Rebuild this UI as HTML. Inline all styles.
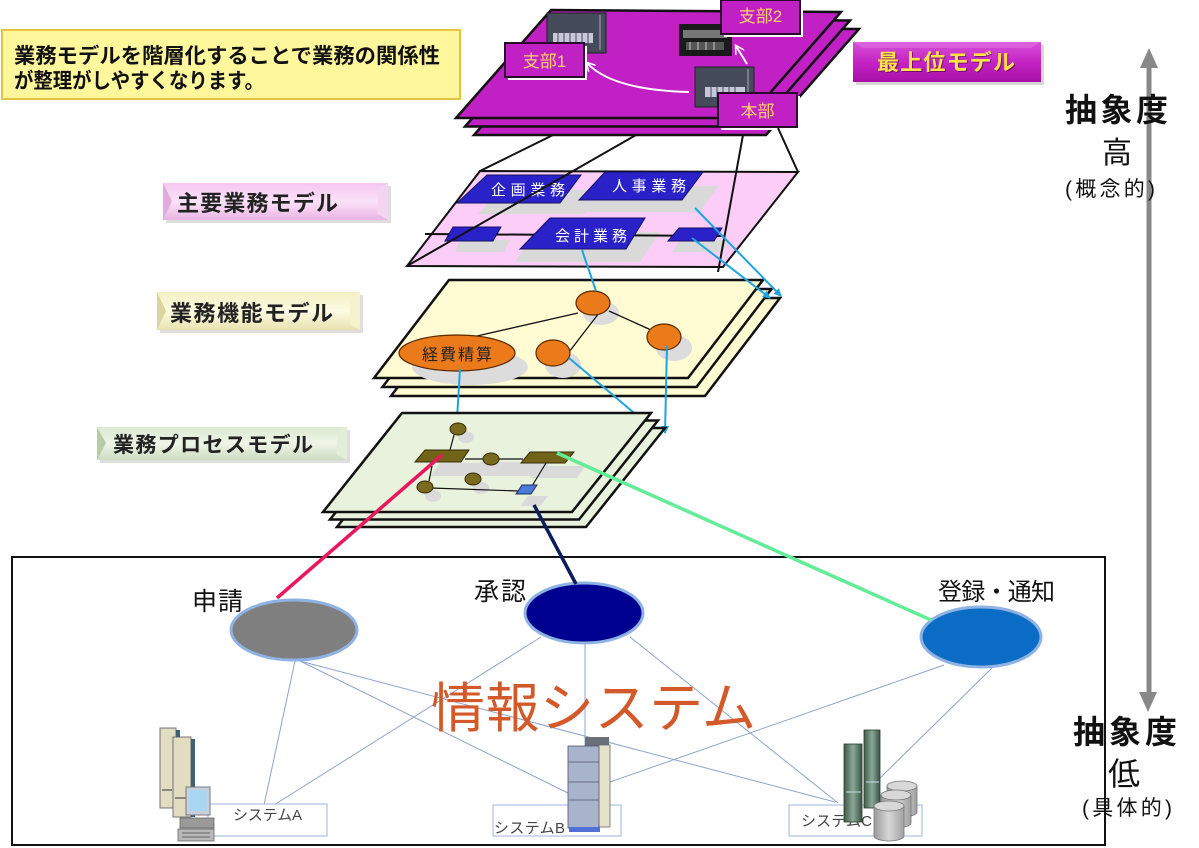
<!DOCTYPE html>
<html><head><meta charset="utf-8">
<style>
html,body{margin:0;padding:0;background:#fff;}
svg{display:block;}
text{font-family:"Liberation Sans","Noto Sans CJK JP",sans-serif;}
</style></head><body>
<svg width="1199" height="848" viewBox="0 0 1199 848" xmlns="http://www.w3.org/2000/svg">
<defs>
  <linearGradient id="gPink" x1="0" y1="0" x2="0" y2="1">
    <stop offset="0" stop-color="#f6c6f0"/><stop offset="0.5" stop-color="#fbe2f8"/><stop offset="1" stop-color="#eab4e4"/>
  </linearGradient>
  <linearGradient id="gYel" x1="0" y1="0" x2="0" y2="1">
    <stop offset="0" stop-color="#f3efc4"/><stop offset="0.5" stop-color="#fdfbe2"/><stop offset="1" stop-color="#e8e2b0"/>
  </linearGradient>
  <linearGradient id="gGrn" x1="0" y1="0" x2="0" y2="1">
    <stop offset="0" stop-color="#dce9d0"/><stop offset="0.5" stop-color="#eef5e8"/><stop offset="1" stop-color="#cddcc0"/>
  </linearGradient>
  <linearGradient id="gMag" x1="0" y1="0" x2="0" y2="1">
    <stop offset="0" stop-color="#d850d8"/><stop offset="0.5" stop-color="#c424c4"/><stop offset="1" stop-color="#a810a8"/>
  </linearGradient>
  <linearGradient id="gTowerG" x1="0" y1="0" x2="1" y2="0">
    <stop offset="0" stop-color="#3e5a48"/><stop offset="0.5" stop-color="#8aa898"/><stop offset="1" stop-color="#3a5444"/>
  </linearGradient>
  <linearGradient id="gCyl" x1="0" y1="0" x2="1" y2="0">
    <stop offset="0" stop-color="#9a9a9a"/><stop offset="0.5" stop-color="#d8d8d8"/><stop offset="1" stop-color="#a0a0a0"/>
  </linearGradient>
  <marker id="arr" markerWidth="8" markerHeight="8" refX="7" refY="4" orient="auto" markerUnits="userSpaceOnUse">
    <path d="M0,0 L8,4 L0,8 z" fill="#1ea4e0"/>
  </marker>
  <marker id="warr" markerWidth="10" markerHeight="10" refX="8" refY="5" orient="auto" markerUnits="userSpaceOnUse">
    <path d="M0,0 L9,5 L0,10" fill="none" stroke="#fff" stroke-width="1.5"/>
  </marker>
</defs>

<!-- Top-left text box -->
<rect x="2" y="30" width="458" height="69" fill="#fff79c" stroke="#e6c442" stroke-width="2"/>
<text x="14" y="63" font-size="21" font-weight="bold" fill="#111" textLength="426" lengthAdjust="spacingAndGlyphs">業務モデルを階層化することで業務の関係性</text>
<text x="14" y="88" font-size="21" font-weight="bold" fill="#111" textLength="250" lengthAdjust="spacingAndGlyphs">が整理がしやすくなります。</text>

<!-- Top purple plates -->
<polygon points="569,27 859,29 766,135 474,135" fill="#c020c4" stroke="#111" stroke-width="2.5"/>
<polygon points="560,18.5 850,20.5 757,126.5 465,126.5" fill="#c020c4" stroke="#111" stroke-width="2.5"/>
<polygon points="551,10 841,12 748,118 456,118" fill="#c020c4" stroke="#111" stroke-width="2.5"/>

<!-- building 1 -->
<rect x="547" y="13" width="59" height="40" fill="#454b5a" stroke="#222" stroke-width="1"/>
<rect x="553" y="33" width="40" height="10" fill="#dde" opacity="0.85"/>
<g stroke="#454b5a" stroke-width="1"><line x1="558" y1="33" x2="558" y2="43"/><line x1="564" y1="33" x2="564" y2="43"/><line x1="570" y1="33" x2="570" y2="43"/><line x1="576" y1="33" x2="576" y2="43"/><line x1="582" y1="33" x2="582" y2="43"/><line x1="588" y1="33" x2="588" y2="43"/></g>
<line x1="600" y1="15" x2="600" y2="50" stroke="#aab" stroke-width="1"/>
<!-- building 2 -->
<rect x="679" y="24" width="53" height="32" fill="#1a1a1a"/>
<rect x="683" y="30" width="44" height="8" fill="#777"/>
<rect x="686" y="42" width="38" height="8" fill="#555"/>
<g stroke="#ccc" stroke-width="1"><line x1="690" y1="42" x2="690" y2="50"/><line x1="698" y1="42" x2="698" y2="50"/><line x1="706" y1="42" x2="706" y2="50"/><line x1="714" y1="42" x2="714" y2="50"/></g>
<!-- building 3 -->
<rect x="695" y="67" width="59" height="40" fill="#454b5a" stroke="#222" stroke-width="1"/>
<rect x="705" y="87" width="40" height="10" fill="#dde" opacity="0.85"/>
<g stroke="#454b5a" stroke-width="1"><line x1="711" y1="87" x2="711" y2="97"/><line x1="717" y1="87" x2="717" y2="97"/><line x1="723" y1="87" x2="723" y2="97"/><line x1="729" y1="87" x2="729" y2="97"/><line x1="735" y1="87" x2="735" y2="97"/></g>
<line x1="748" y1="69" x2="748" y2="105" stroke="#aab" stroke-width="1"/>

<!-- white arrows -->
<path d="M689,92 Q612,90 587,63" fill="none" stroke="#fff" stroke-width="2" marker-end="url(#warr)"/>
<path d="M747,64 L736,46" fill="none" stroke="#fff" stroke-width="2" marker-end="url(#warr)"/>

<!-- 支部 boxes -->
<rect x="508" y="46" width="79" height="34" fill="#fff"/>
<rect x="505" y="43" width="79" height="34" fill="#c020c4" stroke="#2a0a2a" stroke-width="2"/>
<text x="544.5" y="67" font-size="17" fill="#ffd36a" text-anchor="middle">支部1</text>
<rect x="724" y="3" width="79" height="34" fill="#fff"/>
<rect x="721" y="0" width="79" height="34" fill="#c020c4" stroke="#2a0a2a" stroke-width="2"/>
<text x="760.5" y="22" font-size="17" fill="#ffd36a" text-anchor="middle">支部2</text>
<rect x="721" y="96" width="79" height="34" fill="#fff"/>
<rect x="718" y="93" width="79" height="34" fill="#c020c4" stroke="#2a0a2a" stroke-width="2"/>
<text x="757.5" y="117" font-size="17" fill="#ffd36a" text-anchor="middle">本部</text>

<!-- 最上位モデル -->
<rect x="856" y="45" width="188" height="40" fill="#bbb" opacity="0.6"/>
<rect x="853" y="42" width="188" height="40" fill="url(#gMag)"/>
<polygon points="853,42 1041,42 1031,48 863,48" fill="#e070e0" opacity="0.6"/>
<text x="947" y="71" font-size="22" font-weight="bold" fill="#2a0030" text-anchor="middle" opacity="0.5" textLength="138">最上位モデル</text>
<text x="946" y="70" font-size="22" font-weight="bold" fill="#ffe24a" text-anchor="middle" textLength="138">最上位モデル</text>

<!-- lines top to pink (behind plate) -->
<g stroke="#111" stroke-width="2" fill="none">
<line x1="553" y1="135" x2="480" y2="171"/>
<line x1="778" y1="128" x2="798" y2="172"/>
</g>

<!-- Pink plate -->
<polygon points="480,171 798,172 723,267 407,266" fill="#fbcdf7" stroke="#111" stroke-width="2"/>
<!-- gray shadows -->
<g fill="#d9d9d9">
<polygon points="500,190 600,190 585,214 478,214"/>
<polygon points="600,186 718,186 700,212 585,212"/>
<polygon points="535,232 660,232 640,262 515,262"/>
<polygon points="460,240 510,240 504,252 455,252"/>
<polygon points="680,240 730,240 722,252 672,252"/>
</g>
<line x1="425" y1="234" x2="722" y2="236" stroke="#111" stroke-width="2"/>
<g fill="#2a22c8" stroke="#121060" stroke-width="1">
<polygon points="487,175 581,175 560,203 457,203"/>
<polygon points="605,172 703,172 682,200 579,200"/>
<polygon points="550,218 645,218 626,249 520,249"/>
<polygon points="453,227 501,227 493,241 445,241"/>
<polygon points="679,228 722,228 714,241 668,241"/>
</g>
<text x="528" y="195" font-size="15" fill="#fff" text-anchor="middle" textLength="74">企画業務</text>
<text x="649" y="191" font-size="15" fill="#fff" text-anchor="middle" textLength="74">人事業務</text>
<text x="591" y="241" font-size="15" fill="#fff" text-anchor="middle" textLength="72">会計業務</text>
<!-- through lines over pink plate -->
<g stroke="#111" stroke-width="2" fill="none">
<line x1="636" y1="135" x2="407" y2="266"/>
<line x1="743" y1="135" x2="718" y2="272"/>
</g>

<!-- Yellow plates -->
<polygon points="466,298 780,298 705,396 391,396" fill="#fffbd2" stroke="#111" stroke-width="2.5"/>
<polygon points="457.5,289 771.5,289 696.5,387 382.5,387" fill="#fffbd2" stroke="#111" stroke-width="2.5"/>
<polygon points="449,280 763,280 688,378 374,378" fill="#fffbd2" stroke="#111" stroke-width="2.5"/>
<g fill="#dcdcdc">
<ellipse cx="601" cy="313" rx="18" ry="12"/>
<ellipse cx="674" cy="348" rx="18" ry="13"/>
<ellipse cx="563" cy="365" rx="18" ry="13"/>
<ellipse cx="470" cy="367" rx="58" ry="18"/>
</g>
<g stroke="#111" stroke-width="1.3">
<line x1="578" y1="313" x2="477" y2="336"/>
<line x1="599" y1="313" x2="569" y2="352"/>
<line x1="609" y1="311" x2="651" y2="330"/>
</g>
<g fill="#ea7a1a" stroke="#5a2a00" stroke-width="1.2">
<ellipse cx="593" cy="303" rx="17" ry="12"/>
<ellipse cx="664" cy="337" rx="17" ry="13"/>
<ellipse cx="553" cy="353" rx="17" ry="13"/>
<ellipse cx="457" cy="353" rx="58" ry="18"/>
</g>
<text x="457" y="360" font-size="16" fill="#222" text-anchor="middle" textLength="70">経費精算</text>

<!-- blue connectors -->
<g stroke="#1ea4e0" stroke-width="2" fill="none">
<line x1="582" y1="250" x2="596" y2="291"/>
<line x1="692" y1="238" x2="770" y2="298" marker-end="url(#arr)"/>
<line x1="695" y1="208" x2="781" y2="296" marker-end="url(#arr)"/>
<line x1="460" y1="369" x2="457" y2="419" marker-end="url(#arr)"/>
<line x1="569" y1="358" x2="652" y2="428" marker-end="url(#arr)"/>
<line x1="667" y1="346" x2="665" y2="433" marker-end="url(#arr)"/>
</g>

<!-- Green plates -->
<polygon points="416,428 665,428 586,527 337,527" fill="#e8f2dc" stroke="#111" stroke-width="2.5"/>
<polygon points="409,420.5 658,420.5 579,519.5 330,519.5" fill="#e8f2dc" stroke="#111" stroke-width="2.5"/>
<polygon points="402,413 651,413 572,512 323,512" fill="#e8f2dc" stroke="#111" stroke-width="2.5"/>
<g fill="#dadada">
<polygon points="440,463 480,463 472,476 430,476"/>
<polygon points="480,462 550,462 540,476 470,476"/>
<polygon points="540,466 585,466 577,478 530,478"/>
<ellipse cx="466" cy="437" rx="8" ry="6"/>
<ellipse cx="481" cy="488" rx="8" ry="6"/>
<ellipse cx="433" cy="496" rx="8" ry="6"/>
<polygon points="528,496 548,496 540,506 520,506"/>
</g>
<g stroke="#111" stroke-width="1.2">
<line x1="454" y1="435" x2="450" y2="450"/>
<line x1="465" y1="459" x2="484" y2="459"/>
<line x1="498" y1="459" x2="523" y2="459"/>
<line x1="546" y1="463" x2="532" y2="486"/>
<line x1="431" y1="488" x2="518" y2="491"/>
<line x1="432" y1="466" x2="429" y2="481"/>
</g>
<g fill="#7a6a1e" stroke="#332c08" stroke-width="1">
<ellipse cx="458" cy="429" rx="8" ry="6"/>
<ellipse cx="491" cy="459" rx="8" ry="6"/>
<ellipse cx="473" cy="479" rx="8" ry="6"/>
<ellipse cx="425" cy="487" rx="8" ry="6"/>
<polygon points="425,450 469,450 461,462 415,462" fill="#716419"/>
<polygon points="530,452 574,452 565,463 521,463" fill="#716419"/>
</g>
<polygon points="522,485 537,485 531,494 516,494" fill="#4a7ad8" stroke="#203060" stroke-width="1"/>

<!-- Left labels -->
<rect x="166" y="186" width="225" height="37" fill="#c8c8c8" opacity="0.6"/>
<rect x="163" y="183" width="225" height="37" fill="url(#gPink)"/>
<polygon points="163,183 172,201 163,220" fill="#e6a8de"/>
<polygon points="388,183 378,189 378,214 388,220" fill="#f4d4f0"/>
<text x="177" y="211" font-size="22" font-weight="bold" fill="#222" textLength="161">主要業務モデル</text>

<rect x="160" y="295" width="203" height="38" fill="#c8c8c8" opacity="0.6"/>
<rect x="157" y="292" width="203" height="38" fill="url(#gYel)"/>
<polygon points="157,292 166,311 157,330" fill="#ddd69a"/>
<polygon points="360,292 350,298 350,324 360,330" fill="#f6f2cc"/>
<text x="170" y="321" font-size="22" font-weight="bold" fill="#222" textLength="163">業務機能モデル</text>

<rect x="100" y="430" width="250" height="33" fill="#c8c8c8" opacity="0.6"/>
<rect x="97" y="427" width="250" height="33" fill="url(#gGrn)"/>
<polygon points="97,427 106,443 97,460" fill="#b8cca8"/>
<polygon points="347,427 337,432 337,455 347,460" fill="#e2eeda"/>
<text x="113" y="452" font-size="21" fill="#222" font-weight="bold" textLength="200">業務プロセスモデル</text>

<!-- Bottom box -->
<rect x="12" y="557" width="1093" height="288" fill="none" stroke="#111" stroke-width="2"/>

<!-- thin connector lines -->
<g stroke="#8ea4cc" stroke-width="1" fill="none">
<line x1="295" y1="661" x2="264" y2="805"/>
<line x1="300" y1="661" x2="568" y2="793"/>
<line x1="300" y1="661" x2="835" y2="802"/>
<line x1="541" y1="637" x2="274" y2="805"/>
<line x1="585" y1="644" x2="585" y2="753"/>
<line x1="630" y1="637" x2="838" y2="803"/>
<line x1="944" y1="665" x2="610" y2="782"/>
<line x1="992" y1="668" x2="880" y2="778"/>
</g>

<!-- 情報システム -->
<text x="431" y="727" font-size="54" fill="#d4592a" textLength="325">情報システム</text>

<!-- ellipses -->
<ellipse cx="294" cy="630" rx="63" ry="30" fill="#7f7f7f" stroke="#8fb2e4" stroke-width="3"/>
<ellipse cx="584" cy="613" rx="59" ry="30" fill="#000090" stroke="#8fb2e4" stroke-width="3"/>
<ellipse cx="981" cy="637" rx="60" ry="30" fill="#0a6cc4" stroke="#8fb2e4" stroke-width="3"/>
<text x="192" y="610" font-size="25" fill="#111" textLength="51">申請</text>
<text x="474" y="600" font-size="25" fill="#111" textLength="52">承認</text>
<text x="938" y="600" font-size="24" fill="#111" textLength="117">登録・通知</text>

<!-- thick connectors -->
<line x1="442" y1="455" x2="277" y2="598" stroke="#e8185c" stroke-width="3.5"/>
<line x1="534" y1="505" x2="576" y2="584" stroke="#0c1c5c" stroke-width="3.5"/>
<line x1="557" y1="453" x2="931" y2="620" stroke="#64ec98" stroke-width="3.5"/>

<!-- System boxes -->
<rect x="208" y="804" width="119" height="32" fill="#fff" stroke="#9fb4dc" stroke-width="1"/>
<text x="233" y="820" font-size="15" fill="#444" textLength="69">システムA</text>
<rect x="493" y="805" width="128" height="31" fill="#fff" stroke="#9fb4dc" stroke-width="1"/>
<text x="494" y="833" font-size="15" fill="#444" textLength="71">システムB</text>
<rect x="789" y="805" width="133" height="31" fill="#fff" stroke="#9fb4dc" stroke-width="1"/>
<text x="801" y="826" font-size="15" fill="#444" textLength="71">システムC</text>

<!-- Server A -->
<rect x="160" y="728" width="16" height="80" fill="#e2dcc0" stroke="#556" stroke-width="0.8"/>
<rect x="176" y="730" width="4" height="78" fill="#3e6070"/>
<rect x="173" y="737" width="18" height="80" fill="#e2dcc0" stroke="#556" stroke-width="0.8"/>
<rect x="191" y="739" width="4" height="78" fill="#3e6070"/>
<line x1="162" y1="790" x2="172" y2="790" stroke="#333"/>
<line x1="175" y1="798" x2="187" y2="798" stroke="#333"/>
<!-- PC -->
<rect x="186" y="787" width="24" height="28" fill="#c8d0d8" stroke="#778" stroke-width="1"/>
<rect x="189" y="790" width="18" height="21" fill="#a8d6f4"/>
<rect x="180" y="818" width="34" height="10" fill="#9a9a9a" stroke="#666" stroke-width="0.8"/>
<rect x="178" y="829" width="36" height="12" fill="#b8b8b8" stroke="#666" stroke-width="0.8"/>
<line x1="182" y1="833" x2="210" y2="833" stroke="#666"/>
<line x1="182" y1="837" x2="210" y2="837" stroke="#666"/>

<!-- Server B -->
<rect x="585" y="737" width="24" height="9" fill="#6a707a"/>
<rect x="598" y="745" width="12" height="82" fill="#e6e2c8" stroke="#667" stroke-width="0.8"/>
<rect x="568" y="746" width="31" height="82" fill="#a8b4cc" stroke="#556" stroke-width="0.8"/>
<g stroke="#556" stroke-width="0.8"><line x1="568" y1="762" x2="599" y2="762"/><line x1="568" y1="782" x2="599" y2="782"/><line x1="568" y1="800" x2="599" y2="800"/></g>
<rect x="569" y="827" width="31" height="5" fill="#5070d8"/>

<!-- Server C -->
<rect x="864" y="730" width="16" height="78" fill="url(#gTowerG)" stroke="#2a3a30" stroke-width="0.8"/>
<rect x="844" y="744" width="18" height="78" fill="url(#gTowerG)" stroke="#2a3a30" stroke-width="0.8"/>
<line x1="866" y1="782" x2="879" y2="782" stroke="#cde"/>
<line x1="846" y1="792" x2="861" y2="792" stroke="#cde"/>
<g stroke="#777" stroke-width="0.8">
<path d="M887,786 L887,812 A15,5 0 0 0 917,812 L917,786" fill="url(#gCyl)"/>
<ellipse cx="902" cy="786" rx="15" ry="5" fill="#d8d8d8"/>
<path d="M881,795 L881,823 A15,5 0 0 0 911,823 L911,795" fill="url(#gCyl)"/>
<ellipse cx="896" cy="795" rx="15" ry="5" fill="#d8d8d8"/>
<path d="M874,806 L874,836 A15,5 0 0 0 904,836 L904,806" fill="url(#gCyl)"/>
<ellipse cx="889" cy="806" rx="15" ry="5" fill="#d8d8d8"/>
</g>

<!-- Right side axis -->
<line x1="1149" y1="66" x2="1149" y2="694" stroke="#888" stroke-width="5"/>
<polygon points="1149,48 1140,68 1158,68" fill="#888"/>
<polygon points="1148,712 1139,692 1157,692" fill="#888"/>
<text x="1065" y="121" font-size="32" font-weight="bold" fill="#111" textLength="103">抽象度</text>
<text x="1102" y="163" font-size="30" fill="#111">高</text>
<text x="1065" y="196" font-size="21" fill="#111" textLength="90">(概念的)</text>
<text x="1073" y="743" font-size="32" font-weight="bold" fill="#111" textLength="104">抽象度</text>
<text x="1108" y="785" font-size="32" fill="#111">低</text>
<text x="1082" y="815" font-size="21" fill="#111" textLength="90">(具体的)</text>
</svg>
</body></html>
